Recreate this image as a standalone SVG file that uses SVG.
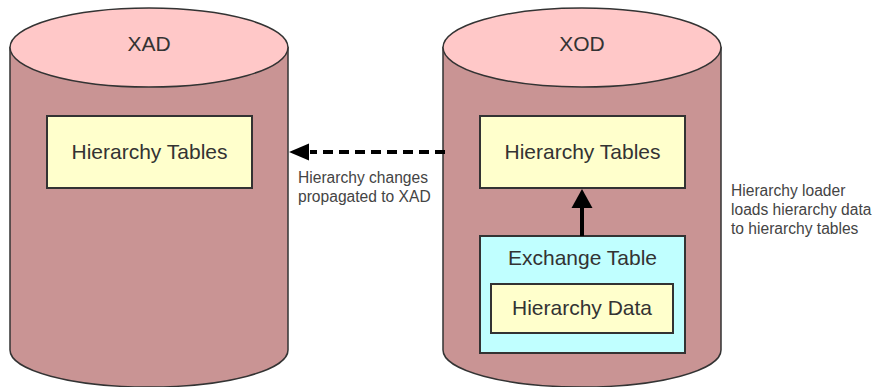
<svg xmlns="http://www.w3.org/2000/svg" width="874" height="387" viewBox="0 0 874 387">
<defs>
<style>
.body{fill:#C99494;stroke:#333;stroke-width:1.5}
.top{fill:#FFC8C8;stroke:#333;stroke-width:1.5}
.ybox{fill:#FFFFCC;stroke:#333;stroke-width:2}
.cbox{fill:#C0FFFF;stroke:#333;stroke-width:2}
.big{font-family:"Liberation Sans",Arial,sans-serif;font-size:21px;fill:#333;text-anchor:middle}
.small{font-family:"Liberation Sans",Arial,sans-serif;font-size:15.6px;fill:#444}
.conn{stroke:#000;stroke-width:4;fill:none}
</style>
</defs>
<g id="xad">
<path class="body" d="M10,47.5 L10,350 A139,37 0 0 0 288,350 L288,47.5 Z"/>
<ellipse class="top" cx="149" cy="47.5" rx="139" ry="39.5"/>
<text class="big" x="149" y="51">XAD</text>
</g>
<g id="xad-hierarchy-tables">
<rect class="ybox" x="47" y="116" width="205" height="72"/>
<text class="big" x="149.5" y="159">Hierarchy Tables</text>
</g>
<g id="xod">
<path class="body" d="M443,47.5 L443,350 A139,37 0 0 0 721,350 L721,47.5 Z"/>
<ellipse class="top" cx="582" cy="47.5" rx="139" ry="39.5"/>
<text class="big" x="582" y="51">XOD</text>
</g>
<g id="xod-hierarchy-tables">
<rect class="ybox" x="480" y="116" width="205" height="72"/>
<text class="big" x="582.5" y="159">Hierarchy Tables</text>
</g>
<g id="exchange-table">
<rect class="cbox" x="480" y="236" width="205" height="117"/>
<text class="big" x="582.5" y="265">Exchange Table</text>
</g>
<g id="hierarchy-data">
<rect class="ybox" x="491" y="284" width="182" height="49"/>
<text class="big" x="582" y="315">Hierarchy Data</text>
</g>
<g id="connectors">
<line class="conn" x1="445" y1="152" x2="310" y2="152" stroke-dasharray="10,6"/>
<path d="M309,143.5 L289,152 L309,160.5 Z" fill="#000"/>
<line class="conn" x1="582" y1="236" x2="582" y2="206"/>
<path d="M571.5,208 L582,189 L592.5,208 Z" fill="#000"/>
</g>
<g id="labels">
<text class="small" x="298" y="183">Hierarchy changes</text>
<text class="small" x="298" y="202">propagated to XAD</text>
<text class="small" x="731" y="196">Hierarchy loader</text>
<text class="small" x="731" y="215">loads hierarchy data</text>
<text class="small" x="731" y="234">to hierarchy tables</text>
</g>
</svg>
